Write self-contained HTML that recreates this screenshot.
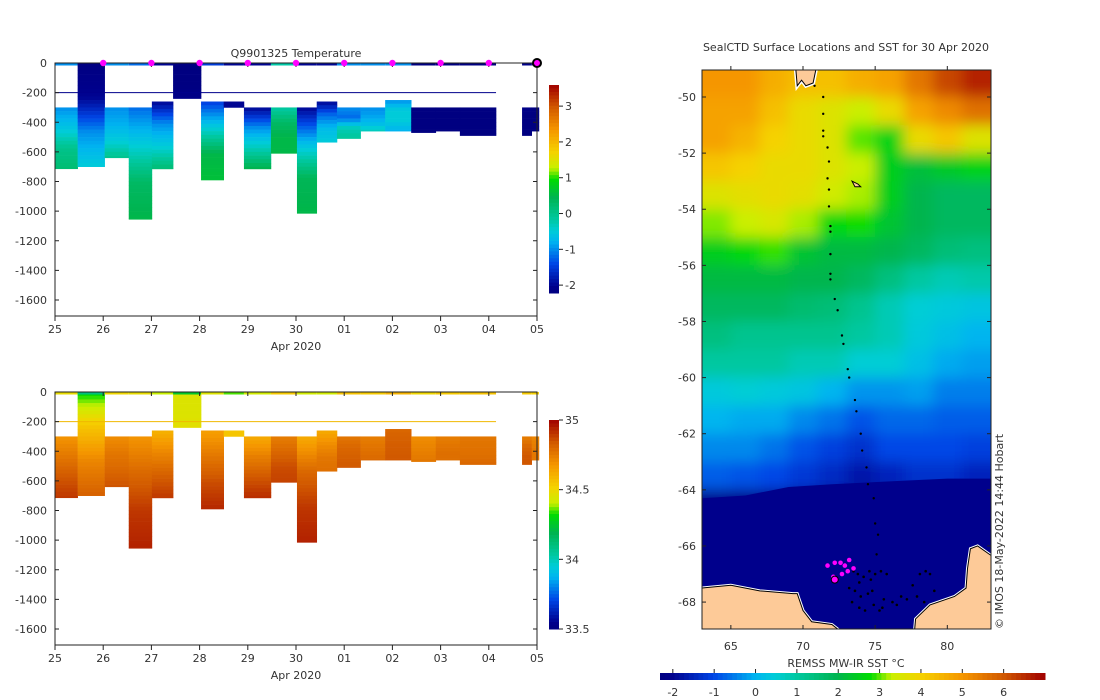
<!DOCTYPE html>
<html><head><meta charset="utf-8"><style>
html,body{margin:0;padding:0;background:#fff}
svg{display:block;font-family:"DejaVu Sans","Liberation Sans",sans-serif;}
text{fill:#333;font-size:11px}
</style></head><body>
<svg id="s" width="1100" height="700" viewBox="0 0 1100 700">
<defs>
<clipPath id="mapclip"><rect x="702" y="70" width="289" height="559"/></clipPath>
<filter id="blur" x="-5%" y="-5%" width="110%" height="110%"><feGaussianBlur stdDeviation="7"/></filter>
</defs>
<rect width="1100" height="700" fill="#fff"/>
<g id="top"></g>
<g id="bot"></g>
<g id="map"></g>
</svg>
<script>
// ---------- data ----------
const castStart=[0,0.47,1.03,1.53,2.01,2.45,3.03,3.5,3.92,4.48,5.02,5.43,5.85,6.34,6.85,7.39,7.9,8.4,9.69,9.89];
const castEnd=[0.47,1.03,1.53,2.01,2.45,3.03,3.5,3.92,4.48,5.02,5.43,5.85,6.34,6.85,7.39,7.9,8.4,9.15,9.89,10.04];
const castTop=[300,0,300,300,260,0,260,260,300,300,300,260,300,300,250,300,300,300,300,300];
const castBottom=[714,700,640,1055,715,240,790,300,715,610,1015,535,510,460,460,470,460,490,490,460];
const castTemp=[[-1,-0.6,0,0.2],[-2.2,-2,-1,-0.5],[-1,-0.8,-0.5,0],[-1.2,-0.5,0.3,0.5],[-2,-1,-0.5,0.2],[-2.2,-2.2,-2.2,-2.1],[-1.5,-0.5,0.5,0.6],[-2,-2,-2,-2],[-2,-1,-0.3,0.5],[-0.2,0.3,0.5,0.5],[-2,-0.7,0.4,0.5],[-2,-1.2,-0.7,-0.5],[-1,-1.2,-0.3,-0.1],[-1,-0.9,-0.7,-0.3],[-1,-0.5,-0.5,-0.8],[-2.2,-2.2,-2.2,-2.2],[-2.2,-2.2,-2.2,-2.2],[-2.2,-2.2,-2.2,-2.2],[-2.1,-2.2,-2.2,-2.2],[-2.2,-2.2,-2.2,-2.2]];
const castSal=[[34.68,34.76,34.84,34.9],[34.3,34.55,34.72,34.82],[34.7,34.76,34.8,34.85],[34.68,34.8,34.9,34.94],[34.6,34.72,34.82,34.9],[34.45,34.45,34.45,34.47],[34.65,34.76,34.86,34.93],[34.55,34.55,34.55,34.55],[34.62,34.74,34.84,34.92],[34.74,34.8,34.86,34.88],[34.62,34.8,34.9,34.94],[34.62,34.7,34.76,34.78],[34.76,34.8,34.82,34.84],[34.74,34.76,34.78,34.8],[34.8,34.82,34.83,34.84],[34.7,34.72,34.74,34.76],[34.74,34.76,34.78,34.78],[34.76,34.77,34.78,34.8],[34.74,34.8,34.84,34.84],[34.72,34.74,34.76,34.76]];
const markerDays=[1,2,3,4,5,6,7,8,9];
const dayLabels=["25","26","27","28","29","30","01","02","03","04","05"];
const depthTicks=[0,-200,-400,-600,-800,-1000,-1200,-1400,-1600];
const tempTicks=[-2,-1,0,1,2,3];
const salTicks=[33.5,34,34.5,35];
const sstGrid=[
[5,5,4.6,4.3,4.3,4.6,4.8,5.5,6.2,6.6],
[4.8,4.8,4.3,3.8,3.6,3.3,3.8,4.8,5.2,5.6],
[4.8,4.5,4,3.8,3.6,3,2.6,3.8,4.2,3.6],
[4.2,4,3.8,3.8,3.6,3.3,2.5,2.2,2.4,2.6],
[3.6,3.7,3.8,3.7,3.4,3.2,2.5,2,1.8,1.8],
[3.1,3.3,3.5,3.2,2.7,2.8,2.3,2,1.8,1.8],
[2.5,2.7,2.9,2.3,2.1,2.1,2,1.8,1.5,1.4],
[2.1,2.1,2.1,2,2,1.8,1.4,1,0.8,0.9],
[1.8,1.8,1.8,1.6,1.5,1.2,0.8,0.5,0.4,0.3],
[1.4,1.2,1.2,1.2,1.2,1,0.8,0.4,0.2,0],
[1,1,1,0.8,0.8,0.5,0.5,0.2,-0.1,-0.2],
[0.4,0.5,0.4,0.3,0,-0.3,-0.3,-0.2,-0.5,-0.5],
[0,-0.1,-0.1,-0.4,-0.6,-0.9,-0.7,-0.7,-0.8,-0.8],
[-0.4,-0.4,-0.6,-0.9,-1.1,-1.3,-1,-1,-1,-1.1],
[-0.8,-0.9,-1,-1.2,-1.4,-1.7,-1.5,-1.3,-1.3,-1.5],
[-2.1,-2.2,-2.2,-2.2,-2.2,-2.2,-2.2,-2.2,-2.2,-2.2],
[-2.2,-2.2,-2.2,-2.2,-2.2,-2.2,-2.2,-2.2,-2.2,-2.2],
[-2.2,-2.2,-2.2,-2.2,-2.2,-2.2,-2.2,-2.2,-2.2,-2.2],
[-2.2,-2.2,-2.2,-2.2,-2.2,-2.2,-2.2,-2.2,-2.2,-2.2],
[-2.2,-2.2,-2.2,-2.2,-2.2,-2.2,-2.2,-2.2,-2.2,-2.2]];
const trackLat=[-49.6,-50,-50.6,-51.2,-51.4,-51.8,-52.3,-52.9,-53.3,-53.9,-54.6,-54.8,-55.6,-56.3,-56.5,-57.2,-57.6,-58.5,-58.8,-59.7,-60.0,-60.8,-61.2,-62.0,-62.6,-63.2,-63.8,-64.3,-65.2,-65.6,-66.3];
const trackLon=[70.8,71.4,71.4,71.4,71.4,71.7,71.8,71.7,71.8,71.8,71.9,71.9,71.9,71.9,71.9,72.2,72.4,72.7,72.8,73.1,73.2,73.6,73.7,74.0,74.1,74.4,74.5,74.9,75.0,75.2,75.1];
const clusterLon=[73.5,73.8,74.2,74.6,75,75.4,75.8,73.2,73.6,74,74.8,75.6,73.4,73.9,74.3,74.9,75.5,76.2,76.8,77.2,77.6,78.1,78.5,78.8,79.1,74.5,75.3,76.5,77.9,78.4,73.9,74.7];
const clusterLat=[-66.9,-67.0,-67.1,-66.9,-67.0,-66.9,-67.0,-67.5,-67.6,-67.8,-67.6,-67.9,-68.0,-68.2,-68.3,-68.1,-68.2,-68.0,-67.8,-67.9,-67.4,-67.0,-66.9,-67.0,-67.6,-67.7,-68.3,-68.1,-67.8,-68.0,-67.3,-67.2];
const magLon=[71.7,72.2,72.6,72.9,73.2,73.5,72.1,72.7,73.1];
const magLat=[-66.7,-66.6,-66.6,-66.7,-66.5,-66.8,-67.1,-67.0,-66.9];
const sstTicks=[-2,-1,0,1,2,3,4,5,6];
const latTicks=[-50,-52,-54,-56,-58,-60,-62,-64,-66,-68];
const lonTicks=[65,70,75,80];

// ---------- helpers ----------
const NS="http://www.w3.org/2000/svg";
function mk(parent,tag,attrs,txt){const e=document.createElementNS(NS,tag);for(const k in attrs)e.setAttribute(k,attrs[k]);if(txt!==undefined)e.textContent=txt;parent.appendChild(e);return e;}
const stops=[[0,[0,0,128]],[0.03,[0,0,140]],[0.14,[0,70,230]],[0.247,[0,180,240]],[0.3,[0,205,215]],[0.355,[0,200,160]],[0.46,[0,180,80]],[0.547,[0,220,0]],[0.6,[200,240,0]],[0.677,[245,210,0]],[0.785,[245,150,0]],[0.89,[210,90,0]],[1,[160,0,0]]];
function cmap(t){t=Math.max(0,Math.min(1,t));for(let i=1;i<stops.length;i++){if(t<=stops[i][0]){const a=stops[i-1],b=stops[i];const f=(t-a[0])/(b[0]-a[0]);const c=a[1].map((v,j)=>Math.round(v+(b[1][j]-v)*f));return `rgb(${c[0]},${c[1]},${c[2]})`;}}return 'rgb(160,0,0)';}
function interp(arr,f){const p=f*(arr.length-1);const i=Math.min(arr.length-2,Math.floor(p));const r=p-i;return arr[i]+(arr[i+1]-arr[i])*r;}

const xDay=d=>55+d*48.2;

function profileChart(g,y0,vals,vmin,vmax,cbTop,cbBot,ticks,tickFmt,name){
  const yD=z=>y0+z*(237/1600);
  const norm=v=>(v-vmin)/(vmax-vmin);
  for(let c=0;c<castStart.length;c++){
    const top=castTop[c],bot=castBottom[c],step=25;
    for(let z=top;z<bot;z+=step){
      const z2=Math.min(bot,z+step);
      const v=interp(vals[c],((z+z2)/2-top)/(bot-top));
      const r=mk(g,'rect',{x:xDay(castStart[c]),y:yD(z),width:xDay(castEnd[c])-xDay(castStart[c])+0.3,height:yD(z2)-yD(z)+0.3,fill:cmap(norm(v))});
      
      
    }
    const sl=mk(g,'rect',{x:xDay(castStart[c]),y:yD(0),width:xDay(castEnd[c])-xDay(castStart[c]),height:2.5,fill:cmap(norm(vals[c][0]-(name==='salinity'?0.2:0)))});
    
    
  }
  const l200=mk(g,'line',{x1:xDay(0),x2:xDay(9.15),y1:yD(200),y2:yD(200),stroke:name==='salinity'?'#f0b800':'#00008c','stroke-width':1});
  
  
  const fr=mk(g,'rect',{x:55,y:y0,width:482,height:253,fill:'none',stroke:'#222','stroke-width':1});
  
  
  dayLabels.forEach((lab,i)=>{
    const x=xDay(i);
    mk(g,'line',{x1:x,x2:x,y1:y0+253,y2:y0+258,stroke:'#222'});
    mk(g,'line',{x1:x,x2:x,y1:y0,y2:y0+4,stroke:'#222'});
    const t=mk(g,'text',{x:x,y:y0+270,'text-anchor':'middle'},lab);
    
    
  });
  const xt=mk(g,'text',{x:296,y:y0+287,'text-anchor':'middle'},'Apr 2020');
  
  
  depthTicks.forEach(d=>{
    const y=yD(-d);
    mk(g,'line',{x1:55,x2:59,y1:y,y2:y,stroke:'#222'});
    mk(g,'line',{x1:533,x2:537,y1:y,y2:y,stroke:'#222'});
    const t=mk(g,'text',{x:47,y:y+4,'text-anchor':'end'},String(d));
    
    
  });
  const n=60,h=(cbBot-cbTop)/n;
  for(let i=0;i<n;i++){
    const r=mk(g,'rect',{x:549,y:cbTop+i*h,width:10,height:h+0.5,fill:cmap(1-(i+0.5)/n)});
    
    
  }
  ticks.forEach(v=>{
    const y=cbBot-norm(v)*(cbBot-cbTop);
    mk(g,'line',{x1:559,x2:563,y1:y,y2:y,stroke:'#222'});
    const t=mk(g,'text',{x:565,y:y+4},tickFmt(v));
    
    
  });
  return yD;
}

const gt=document.getElementById('top');
const yT=profileChart(gt,63,castTemp,-2.22,3.59,85,293,tempTicks,v=>String(v),'temperature');
const title=mk(gt,'text',{x:296,y:57,'text-anchor':'middle'},'Q9901325  Temperature');


markerDays.forEach(d=>{
  const m=mk(gt,'circle',{cx:xDay(d),cy:yT(0),r:3.2,fill:'#ff00ff'});
  
  
});
const cm=mk(gt,'circle',{cx:xDay(10),cy:yT(0),r:4,fill:'#ff00ff',stroke:'#000','stroke-width':2});



const gb=document.getElementById('bot');
profileChart(gb,392,castSal,33.5,35.0,420,629,salTicks,v=>String(v),'salinity');

// ---------- map ----------
const gm=document.getElementById('map');
const lonX=l=>702+(l-63)*14.43;
const latY=l=>97+(-50-l)*28.06;
const heat=mk(gm,'g',{'clip-path':'url(#mapclip)'});
const heatInner=mk(heat,'g',{filter:'url(#blur)'});
sstGrid.forEach((row,ri)=>{
  row.forEach((v,ci)=>{
    const lat0=-49-ri,lon0=63+ci*2;
    const r=mk(heatInner,'rect',{x:lonX(lon0)-(ci===0?20:0),y:latY(lat0)-(ri===0?20:0),width:lonX(lon0+2)-lonX(lon0)+(ci===0||ci===9?20:0)+0.5,height:latY(lat0-1)-latY(lat0)+(ri===0?20:0)+(ri===19?20:0)+0.5,fill:cmap((v+2.31)/9.31)});
    
    
  });
});
const icePts=[[63,-64.3],[66,-64.2],[69,-63.9],[72,-63.8],[76,-63.7],[80,-63.6],[83,-63.6],[83,-69.2],[63,-69.2]];
const ice=mk(heat,'polygon',{points:icePts.map(q=>lonX(q[0])+','+latY(q[1])).join(' '),fill:'#00008c'});


const landPts1=[[63,-67.5],[65,-67.4],[67,-67.6],[69.3,-67.7],[69.6,-67.7],[70,-68.3],[70.6,-68.7],[72,-68.8],[73,-69.2],[63,-69.2]];
const landPts2=[[77.7,-69.2],[77.8,-68.6],[78.8,-68.1],[80.5,-67.8],[81.3,-67.5],[81.4,-66.8],[81.6,-66.1],[82.1,-66.0],[83.2,-66.4],[83.2,-69.2]];
[landPts1,landPts2].forEach(p=>{
  const pl=mk(heat,'polygon',{points:p.map(q=>lonX(q[0])+','+latY(q[1])).join(' '),fill:'#fdca98',stroke:'#fff','stroke-width':3});
  
  
  const pl2=mk(heat,'polygon',{points:p.map(q=>lonX(q[0])+','+latY(q[1])).join(' '),fill:'#fdca98',stroke:'#000','stroke-width':1});
  
  
});
const islPts=[[69.5,-49.0],[70.9,-49.0],[70.7,-49.5],[70.2,-49.6],[69.9,-49.4],[69.6,-49.6]].map(q=>lonX(q[0])+','+latY(q[1])).join(' ');
const islH=mk(heat,'polygon',{points:islPts,fill:'#fff',stroke:'#fff','stroke-width':4});


const isl=mk(heat,'polygon',{points:islPts,fill:'#fdca98',stroke:'#000','stroke-width':1});


const isl2=mk(heat,'polygon',{points:[[73.4,-53.0],[73.8,-53.1],[74.0,-53.2],[73.6,-53.2]].map(q=>lonX(q[0])+','+latY(q[1])).join(' '),fill:'#fdca98',stroke:'#000','stroke-width':1});


trackLat.forEach((la,i)=>{
  const d=mk(heat,'circle',{cx:lonX(trackLon[i]),cy:latY(la),r:1.2,fill:'#000'});
  
  
});
clusterLat.forEach((la,i)=>{
  const d=mk(heat,'circle',{cx:lonX(clusterLon[i]),cy:latY(la),r:1.3,fill:'#000'});
  
  
});
magLat.forEach((la,i)=>{
  const d=mk(heat,'circle',{cx:lonX(magLon[i]),cy:latY(la),r:2.3,fill:'#ff00ff'});
  
  
});
const cur=mk(heat,'circle',{cx:lonX(72.2),cy:latY(-67.2),r:3.5,fill:'#ff00ff',stroke:'#000','stroke-width':1});


const mf=mk(gm,'rect',{x:702,y:70,width:289,height:559,fill:'none',stroke:'#222','stroke-width':1});


latTicks.forEach(l=>{
  const y=latY(l);
  mk(gm,'line',{x1:702,x2:706,y1:y,y2:y,stroke:'#222'});
  mk(gm,'line',{x1:987,x2:991,y1:y,y2:y,stroke:'#222'});
  const t=mk(gm,'text',{x:696,y:y+4,'text-anchor':'end'},String(l));
  
  
});
lonTicks.forEach(l=>{
  const x=lonX(l);
  mk(gm,'line',{x1:x,x2:x,y1:625,y2:629,stroke:'#222'});
  mk(gm,'line',{x1:x,x2:x,y1:66,y2:70,stroke:'#222'});
  const t=mk(gm,'text',{x:x,y:650,'text-anchor':'middle'},String(l));
  
  
});
const mt=mk(gm,'text',{x:846,y:51,'text-anchor':'middle'},'SealCTD Surface Locations and SST for 30 Apr 2020');


const cr=mk(gm,'text',{x:0,y:0,transform:'translate(1003,629) rotate(-90)','font-size':'10'},'© IMOS 18-May-2022 14:44 Hobart');


const cbx0=660,cbx1=1045,nb=80,w=(cbx1-cbx0)/nb;
for(let i=0;i<nb;i++){
  const r=mk(gm,'rect',{x:cbx0+i*w,y:673,width:w+0.5,height:7,fill:cmap((i+0.5)/nb)});
  
  
}
sstTicks.forEach(v=>{
  const x=cbx0+(v+2.31)/9.31*(cbx1-cbx0);
  mk(gm,'line',{x1:x,x2:x,y1:669,y2:673,stroke:'#222'});
  const t=mk(gm,'text',{x:x,y:696,'text-anchor':'middle'},String(v));
  
  
});
const ct=mk(gm,'text',{x:846,y:667,'text-anchor':'middle'},'REMSS MW-IR SST °C');


</script>
</body></html>
